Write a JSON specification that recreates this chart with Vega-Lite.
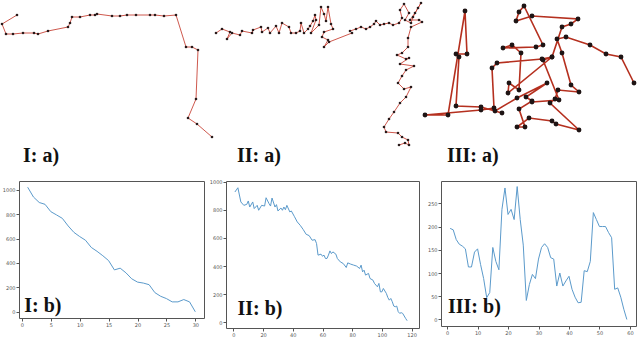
{
  "$schema": "https://vega.github.io/schema/vega-lite/v6.json",
  "padding": 0,
  "background": "white",
  "config": {
    "view": {"stroke": "#555", "strokeWidth": 1},
    "axis": {"labelFontSize": 5, "labelFont": "DejaVu Sans", "labelColor": "#555", "tickColor": "#555", "tickSize": 3, "grid": false, "domain": false, "labelPadding": 1, "labelOverlap": false, "labelBound": false, "labelFlush": false, "tickCount": 20}
  },
  "datasets": {
    "traj": [
      {"t":"I","i":1,"x":18,"y":15},{"t":"I","i":2,"x":3,"y":24},{"t":"I","i":3,"x":7,"y":34},{"t":"I","i":4,"x":14,"y":34},{"t":"I","i":5,"x":24,"y":33},{"t":"I","i":6,"x":35,"y":33},{"t":"I","i":7,"x":39,"y":34},{"t":"I","i":8,"x":49,"y":31},{"t":"I","i":9,"x":69,"y":27},{"t":"I","i":10,"x":71,"y":23},{"t":"I","i":11,"x":73,"y":17},{"t":"I","i":12,"x":81,"y":17},{"t":"I","i":13,"x":91,"y":15},{"t":"I","i":14,"x":96,"y":15},{"t":"I","i":15,"x":98,"y":14},{"t":"I","i":16,"x":113,"y":16},{"t":"I","i":17,"x":121,"y":16},{"t":"I","i":18,"x":128,"y":15},{"t":"I","i":19,"x":137,"y":15},{"t":"I","i":20,"x":151,"y":15},{"t":"I","i":21,"x":156,"y":15},{"t":"I","i":22,"x":165,"y":16},{"t":"I","i":23,"x":177,"y":15},{"t":"I","i":24,"x":187,"y":47},{"t":"I","i":25,"x":193,"y":47},{"t":"I","i":26,"x":199,"y":50},{"t":"I","i":27,"x":197,"y":99},{"t":"I","i":28,"x":189,"y":118},{"t":"I","i":29,"x":198,"y":124},{"t":"I","i":30,"x":213,"y":137},
      {"t":"II","i":1,"x":217,"y":33},{"t":"II","i":2,"x":223,"y":29},{"t":"II","i":3,"x":231,"y":32},{"t":"II","i":4,"x":228,"y":39},{"t":"II","i":5,"x":233,"y":33},{"t":"II","i":6,"x":241,"y":35},{"t":"II","i":7,"x":243,"y":31},{"t":"II","i":8,"x":253,"y":33},{"t":"II","i":9,"x":254,"y":30},{"t":"II","i":10,"x":262,"y":27},{"t":"II","i":11,"x":263,"y":32},{"t":"II","i":12,"x":269,"y":28},{"t":"II","i":13,"x":271,"y":33},{"t":"II","i":14,"x":277,"y":26},{"t":"II","i":15,"x":280,"y":33},{"t":"II","i":16,"x":283,"y":23},{"t":"II","i":17,"x":290,"y":27},{"t":"II","i":18,"x":292,"y":33},{"t":"II","i":19,"x":297,"y":33},{"t":"II","i":20,"x":301,"y":31},{"t":"II","i":21,"x":302,"y":23},{"t":"II","i":22,"x":305,"y":33},{"t":"II","i":23,"x":309,"y":29},{"t":"II","i":24,"x":311,"y":26},{"t":"II","i":25,"x":314,"y":21},{"t":"II","i":26,"x":316,"y":15},{"t":"II","i":27,"x":317,"y":20},{"t":"II","i":28,"x":312,"y":33},{"t":"II","i":29,"x":320,"y":25},{"t":"II","i":30,"x":322,"y":7},{"t":"II","i":31,"x":325,"y":14},{"t":"II","i":32,"x":327,"y":21},{"t":"II","i":33,"x":329,"y":7},{"t":"II","i":34,"x":332,"y":24},{"t":"II","i":35,"x":334,"y":29},{"t":"II","i":36,"x":325,"y":32},{"t":"II","i":37,"x":323,"y":37},{"t":"II","i":38,"x":329,"y":40},{"t":"II","i":39,"x":325,"y":47},{"t":"II","i":40,"x":330,"y":42},{"t":"II","i":41,"x":353,"y":33},{"t":"II","i":42,"x":351,"y":31},{"t":"II","i":43,"x":357,"y":29},{"t":"II","i":44,"x":362,"y":27},{"t":"II","i":45,"x":367,"y":29},{"t":"II","i":46,"x":371,"y":27},{"t":"II","i":47,"x":375,"y":24},{"t":"II","i":48,"x":377,"y":21},{"t":"II","i":49,"x":381,"y":25},{"t":"II","i":50,"x":385,"y":24},{"t":"II","i":51,"x":390,"y":23},{"t":"II","i":52,"x":394,"y":25},{"t":"II","i":53,"x":400,"y":23},{"t":"II","i":54,"x":403,"y":18},{"t":"II","i":55,"x":401,"y":10},{"t":"II","i":56,"x":405,"y":4},{"t":"II","i":57,"x":410,"y":13},{"t":"II","i":58,"x":406,"y":20},{"t":"II","i":59,"x":412,"y":23},{"t":"II","i":60,"x":414,"y":17},{"t":"II","i":61,"x":419,"y":8},{"t":"II","i":62,"x":422,"y":3},{"t":"II","i":63,"x":416,"y":13},{"t":"II","i":64,"x":411,"y":20},{"t":"II","i":65,"x":420,"y":20},{"t":"II","i":66,"x":423,"y":22},{"t":"II","i":67,"x":412,"y":27},{"t":"II","i":68,"x":409,"y":38},{"t":"II","i":69,"x":409,"y":47},{"t":"II","i":70,"x":403,"y":53},{"t":"II","i":71,"x":398,"y":55},{"t":"II","i":72,"x":407,"y":59},{"t":"II","i":73,"x":410,"y":58},{"t":"II","i":74,"x":401,"y":64},{"t":"II","i":75,"x":415,"y":66},{"t":"II","i":76,"x":407,"y":70},{"t":"II","i":77,"x":403,"y":76},{"t":"II","i":78,"x":399,"y":83},{"t":"II","i":79,"x":405,"y":89},{"t":"II","i":80,"x":412,"y":87},{"t":"II","i":81,"x":407,"y":97},{"t":"II","i":82,"x":401,"y":103},{"t":"II","i":83,"x":395,"y":112},{"t":"II","i":84,"x":390,"y":119},{"t":"II","i":85,"x":385,"y":127},{"t":"II","i":86,"x":387,"y":132},{"t":"II","i":87,"x":399,"y":133},{"t":"II","i":88,"x":403,"y":137},{"t":"II","i":89,"x":409,"y":140},{"t":"II","i":90,"x":410,"y":145},{"t":"II","i":91,"x":406,"y":143},{"t":"II","i":92,"x":400,"y":145},
      {"t":"III","i":1,"x":635,"y":83},{"t":"III","i":2,"x":622,"y":57},{"t":"III","i":3,"x":607,"y":54},{"t":"III","i":4,"x":591,"y":45},{"t":"III","i":5,"x":567,"y":37},{"t":"III","i":6,"x":558,"y":39},{"t":"III","i":7,"x":563,"y":53},{"t":"III","i":8,"x":572,"y":85},{"t":"III","i":9,"x":580,"y":92},{"t":"III","i":10,"x":559,"y":90},{"t":"III","i":11,"x":556,"y":99},{"t":"III","i":12,"x":551,"y":103},{"t":"III","i":13,"x":580,"y":130},{"t":"III","i":14,"x":557,"y":124},{"t":"III","i":15,"x":553,"y":121},{"t":"III","i":16,"x":530,"y":118},{"t":"III","i":17,"x":518,"y":127},{"t":"III","i":18,"x":526,"y":127},{"t":"III","i":19,"x":520,"y":109},{"t":"III","i":20,"x":533,"y":101},{"t":"III","i":21,"x":527,"y":97},{"t":"III","i":22,"x":548,"y":83},{"t":"III","i":23,"x":518,"y":98},{"t":"III","i":24,"x":496,"y":111},{"t":"III","i":25,"x":503,"y":113},{"t":"III","i":26,"x":482,"y":107},{"t":"III","i":27,"x":457,"y":106},{"t":"III","i":28,"x":460,"y":57},{"t":"III","i":29,"x":457,"y":54},{"t":"III","i":30,"x":468,"y":54},{"t":"III","i":31,"x":466,"y":11},{"t":"III","i":32,"x":449,"y":115},{"t":"III","i":33,"x":426,"y":115},{"t":"III","i":34,"x":482,"y":110},{"t":"III","i":35,"x":495,"y":108},{"t":"III","i":36,"x":493,"y":68},{"t":"III","i":37,"x":498,"y":63},{"t":"III","i":38,"x":543,"y":59},{"t":"III","i":39,"x":553,"y":57},{"t":"III","i":40,"x":509,"y":93},{"t":"III","i":41,"x":510,"y":83},{"t":"III","i":42,"x":520,"y":90},{"t":"III","i":43,"x":522,"y":53},{"t":"III","i":44,"x":513,"y":45},{"t":"III","i":45,"x":504,"y":48},{"t":"III","i":46,"x":537,"y":47},{"t":"III","i":47,"x":544,"y":45},{"t":"III","i":48,"x":525,"y":6},{"t":"III","i":49,"x":520,"y":12},{"t":"III","i":50,"x":517,"y":21},{"t":"III","i":51,"x":533,"y":16},{"t":"III","i":52,"x":579,"y":19},{"t":"III","i":53,"x":572,"y":24},{"t":"III","i":54,"x":563,"y":27},{"t":"III","i":55,"x":553,"y":57},{"t":"III","i":56,"x":544,"y":60},{"t":"III","i":57,"x":560,"y":100},{"t":"III","i":58,"x":533,"y":102}
    ],
    "b1": [
      {"step":1,"dist":1020},{"step":2,"dist":940},{"step":3,"dist":895},{"step":4,"dist":880},{"step":5,"dist":820},{"step":6,"dist":793},{"step":7,"dist":765},{"step":8,"dist":703},{"step":9,"dist":650},{"step":10,"dist":616},{"step":11,"dist":586},{"step":12,"dist":527},{"step":13,"dist":495},{"step":14,"dist":459},{"step":15,"dist":419},{"step":16,"dist":343},{"step":17,"dist":357},{"step":18,"dist":319},{"step":19,"dist":270},{"step":20,"dist":243},{"step":21,"dist":235},{"step":22,"dist":222},{"step":23,"dist":157},{"step":24,"dist":127},{"step":25,"dist":108},{"step":26,"dist":81},{"step":27,"dist":81},{"step":28,"dist":100},{"step":29,"dist":81},{"step":30,"dist":0}
    ],
    "b2": [
      {"step":1,"dist":927},{"step":3,"dist":957},{"step":5,"dist":856},{"step":7,"dist":832},{"step":9,"dist":839},{"step":10,"dist":863},{"step":11,"dist":820},{"step":13,"dist":856},{"step":14,"dist":809},{"step":16,"dist":832},{"step":17,"dist":797},{"step":19,"dist":832},{"step":21,"dist":827},{"step":22,"dist":886},{"step":24,"dist":844},{"step":25,"dist":827},{"step":26,"dist":884},{"step":28,"dist":820},{"step":29,"dist":837},{"step":30,"dist":792},{"step":32,"dist":813},{"step":33,"dist":797},{"step":34,"dist":820},{"step":35,"dist":801},{"step":36,"dist":832},{"step":38,"dist":785},{"step":39,"dist":792},{"step":41,"dist":754},{"step":43,"dist":714},{"step":45,"dist":690},{"step":47,"dist":660},{"step":49,"dist":626},{"step":51,"dist":617},{"step":53,"dist":584},{"step":55,"dist":588},{"step":56,"dist":560},{"step":57,"dist":478},{"step":59,"dist":485},{"step":60,"dist":470},{"step":61,"dist":478},{"step":62,"dist":454},{"step":63,"dist":454},{"step":64,"dist":478},{"step":65,"dist":508},{"step":66,"dist":489},{"step":67,"dist":501},{"step":69,"dist":485},{"step":70,"dist":454},{"step":72,"dist":430},{"step":74,"dist":418},{"step":76,"dist":390},{"step":77,"dist":423},{"step":79,"dist":414},{"step":81,"dist":407},{"step":83,"dist":400},{"step":85,"dist":383},{"step":86,"dist":407},{"step":87,"dist":359},{"step":88,"dist":371},{"step":89,"dist":336},{"step":91,"dist":348},{"step":92,"dist":312},{"step":94,"dist":300},{"step":95,"dist":277},{"step":96,"dist":265},{"step":97,"dist":253},{"step":98,"dist":277},{"step":99,"dist":217},{"step":100,"dist":217},{"step":101,"dist":241},{"step":103,"dist":206},{"step":104,"dist":177},{"step":105,"dist":158},{"step":106,"dist":170},{"step":107,"dist":147},{"step":108,"dist":116},{"step":109,"dist":111},{"step":110,"dist":116},{"step":111,"dist":76},{"step":112,"dist":64},{"step":113,"dist":69},{"step":114,"dist":64},{"step":116,"dist":28},{"step":117,"dist":12}
    ],
    "b3": [
      {"step":1,"dist":196},{"step":2,"dist":193},{"step":3,"dist":172},{"step":4,"dist":162},{"step":5,"dist":158},{"step":6,"dist":152},{"step":7,"dist":113},{"step":8,"dist":113},{"step":9,"dist":145},{"step":10,"dist":152},{"step":11,"dist":118},{"step":12,"dist":88},{"step":13,"dist":47},{"step":14,"dist":58},{"step":15,"dist":155},{"step":16,"dist":125},{"step":17,"dist":107},{"step":18,"dist":237},{"step":19,"dist":283},{"step":20,"dist":226},{"step":21,"dist":237},{"step":22,"dist":215},{"step":23,"dist":286},{"step":24,"dist":215},{"step":25,"dist":160},{"step":26,"dist":41},{"step":27,"dist":75},{"step":28,"dist":97},{"step":29,"dist":88},{"step":30,"dist":130},{"step":31,"dist":155},{"step":32,"dist":163},{"step":33,"dist":155},{"step":34,"dist":133},{"step":35,"dist":130},{"step":36,"dist":72},{"step":37,"dist":100},{"step":38,"dist":72},{"step":39,"dist":83},{"step":40,"dist":93},{"step":41,"dist":65},{"step":42,"dist":48},{"step":43,"dist":36},{"step":44,"dist":37},{"step":45,"dist":105},{"step":46,"dist":103},{"step":47,"dist":125},{"step":48,"dist":230},{"step":49,"dist":215},{"step":50,"dist":200},{"step":51,"dist":200},{"step":52,"dist":200},{"step":53,"dist":187},{"step":54,"dist":176},{"step":55,"dist":65},{"step":56,"dist":68},{"step":57,"dist":48},{"step":58,"dist":22},{"step":59,"dist":0}
    ]
  },
  "vconcat": [
    {
      "width": 620,
      "height": 173,
      "view": {"stroke": null},
      "encoding": {
        "x": {"field": "x", "type": "quantitative", "scale": {"domain": [20, 640], "nice": false, "zero": false}, "axis": null},
        "y": {"field": "y", "type": "quantitative", "scale": {"domain": [0, 173], "nice": false, "zero": false, "reverse": true}, "axis": null}
      },
      "layer": [
        {
          "data": {"name": "traj"},
          "transform": [{"filter": "datum.t !== 'III'"}],
          "mark": {"type": "line", "color": "#c8463a", "strokeWidth": 0.9},
          "encoding": {"detail": {"field": "t"}, "order": {"field": "i", "type": "quantitative"}}
        },
        {
          "data": {"name": "traj"},
          "transform": [{"filter": "datum.t === 'III'"}],
          "mark": {"type": "line", "color": "#b5301f", "strokeWidth": 1.6},
          "encoding": {"detail": {"field": "t"}, "order": {"field": "i", "type": "quantitative"}}
        },
        {
          "data": {"name": "traj"},
          "transform": [{"filter": "datum.t !== 'III'"}],
          "mark": {"type": "circle", "color": "#2a1a1a", "size": 7, "opacity": 1}
        },
        {
          "data": {"name": "traj"},
          "transform": [{"filter": "datum.t === 'III'"}],
          "mark": {"type": "circle", "color": "#1e1414", "size": 24, "opacity": 1}
        },
        {
          "data": {"values": [
            {"x": 24, "y": 162, "label": "I: a)"},
            {"x": 238, "y": 162, "label": "II: a)"},
            {"x": 448, "y": 162, "label": "III: a)"}
          ]},
          "mark": {"type": "text", "align": "left", "baseline": "alphabetic", "font": "Liberation Serif", "fontWeight": "bold", "fontSize": 20, "color": "#111"},
          "encoding": {"text": {"field": "label"}}
        }
      ]
    },
    {
      "hconcat": [
        {
          "width": 185,
          "height": 137,
          "layer": [
            {
              "data": {"name": "b1"},
              "mark": {"type": "line", "color": "#5b9acb", "strokeWidth": 1},
              "encoding": {
                "x": {"field": "step", "type": "quantitative", "title": null, "scale": {"domain": [-0.5, 31.5], "nice": false, "zero": false}, "axis": {"values": [0, 5, 10, 15, 20, 25, 30], "tickCount": 20, "format": "d"}},
                "y": {"field": "dist", "type": "quantitative", "title": null, "scale": {"domain": [-51, 1071], "nice": false, "zero": false}, "axis": {"values": [0, 200, 400, 600, 800, 1000], "tickCount": 20, "format": "d"}}
              }
            },
            {
              "data": {"values": [{"step": 0.4, "dist": -5, "label": "I: b)"}]},
              "mark": {"type": "text", "align": "left", "baseline": "alphabetic", "font": "Liberation Serif", "fontWeight": "bold", "fontSize": 20, "color": "#111"},
              "encoding": {"x": {"field": "step", "type": "quantitative"}, "y": {"field": "dist", "type": "quantitative"}, "text": {"field": "label"}}
            }
          ]
        },
        {
          "width": 193,
          "height": 147,
          "layer": [
            {
              "data": {"name": "b2"},
              "mark": {"type": "line", "color": "#5b9acb", "strokeWidth": 1},
              "encoding": {
                "x": {"field": "step", "type": "quantitative", "title": null, "scale": {"domain": [-5, 125], "nice": false, "zero": false}, "axis": {"values": [0, 20, 40, 60, 80, 100, 120], "tickCount": 20, "format": "d"}},
                "y": {"field": "dist", "type": "quantitative", "title": null, "scale": {"domain": [-40, 1005], "nice": false, "zero": false}, "axis": {"values": [0, 200, 400, 600, 800, 1000], "tickCount": 20, "format": "d"}}
              }
            },
            {
              "data": {"values": [{"step": 2.7, "dist": 50, "label": "II: b)"}]},
              "mark": {"type": "text", "align": "left", "baseline": "alphabetic", "font": "Liberation Serif", "fontWeight": "bold", "fontSize": 20, "color": "#111"},
              "encoding": {"x": {"field": "step", "type": "quantitative"}, "y": {"field": "dist", "type": "quantitative"}, "text": {"field": "label"}}
            }
          ]
        },
        {
          "width": 195,
          "height": 145,
          "layer": [
            {
              "data": {"name": "b3"},
              "mark": {"type": "line", "color": "#5b9acb", "strokeWidth": 1},
              "encoding": {
                "x": {"field": "step", "type": "quantitative", "title": null, "scale": {"domain": [-2, 62], "nice": false, "zero": false}, "axis": {"values": [0, 10, 20, 30, 40, 50, 60], "tickCount": 20, "format": "d"}},
                "y": {"field": "dist", "type": "quantitative", "title": null, "scale": {"domain": [-14, 298], "nice": false, "zero": false}, "axis": {"values": [0, 50, 100, 150, 200, 250], "tickCount": 20, "format": "d"}}
              }
            },
            {
              "data": {"values": [{"step": 0.3, "dist": 13, "label": "III: b)"}]},
              "mark": {"type": "text", "align": "left", "baseline": "alphabetic", "font": "Liberation Serif", "fontWeight": "bold", "fontSize": 20, "color": "#111"},
              "encoding": {"x": {"field": "step", "type": "quantitative"}, "y": {"field": "dist", "type": "quantitative"}, "text": {"field": "label"}}
            }
          ]
        }
      ],
      "spacing": 22,
      "bounds": "flush"
    }
  ],
  "spacing": 8,
  "bounds": "flush"
}
